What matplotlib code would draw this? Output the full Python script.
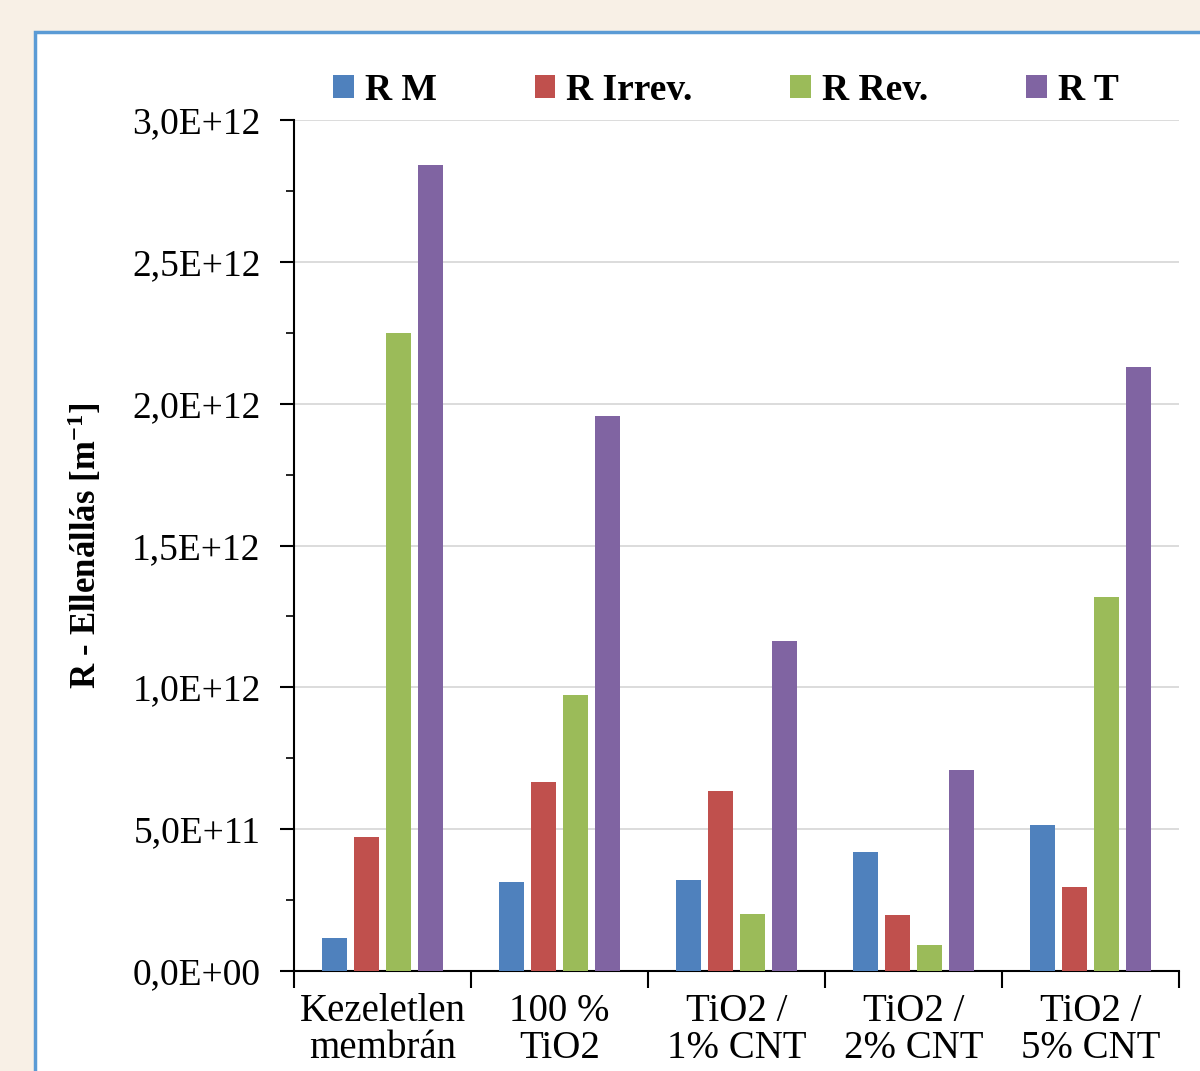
import matplotlib
matplotlib.use("Agg")
import matplotlib.pyplot as plt
import numpy as np
from matplotlib.patches import Rectangle
from matplotlib.ticker import FuncFormatter, MultipleLocator

categories = ["Kezeletlen\nmembrán", "100 %\nTiO2", "TiO2 /\n1% CNT", "TiO2 /\n2% CNT", "TiO2 /\n5% CNT"]
series_names = ["R M", "R Irrev.", "R Rev.", "R T"]
r_m = [0.116e12, 0.314e12, 0.321e12, 0.419e12, 0.515e12]
r_irrev = [0.472e12, 0.666e12, 0.634e12, 0.197e12, 0.296e12]
r_rev = [2.249e12, 0.973e12, 0.201e12, 0.092e12, 1.318e12]
r_t = [2.841e12, 1.956e12, 1.163e12, 0.709e12, 2.129e12]
colors = ["#4f81bd", "#c0504d", "#9bbb59", "#8064a2"]

plt.rcParams['font.family'] = ['Liberation Serif', 'DejaVu Serif']
plt.rcParams['mathtext.default'] = 'regular'

fig = plt.figure(figsize=(12, 10.71), dpi=100)
fig.patch.set_facecolor("#f8f0e6")
# white panel with blue border
panel = Rectangle((35 / 1200, -0.05), 1.1, 1 - 32 / 1071 + 0.05,
                  transform=fig.transFigure, facecolor="white",
                  edgecolor="#5b9bd5", linewidth=2.5, zorder=-10)
fig.patches.append(panel)

ax = fig.add_axes([294 / 1200, 1 - 971 / 1071, (1179 - 294) / 1200, (971 - 120) / 1071])
ax.set_facecolor("none")

x = np.arange(len(categories))
pitch = 0.181
width = 0.142
for i, (name, vals) in enumerate(zip(series_names, [r_m, r_irrev, r_rev, r_t])):
    ax.bar(x + (i - 1.5) * pitch, vals, width, color=colors[i], label=name, zorder=3)

ax.set_xlim(-0.5, len(categories) - 0.5)
ax.set_ylim(0, 3e12)
ax.yaxis.set_major_locator(MultipleLocator(0.5e12))
ax.yaxis.set_minor_locator(MultipleLocator(0.25e12))
ax.yaxis.set_major_formatter(FuncFormatter(lambda v, p: f"{v:.1E}".replace(".", ",")))
ax.grid(axis="y", color="#d9d9d9", linewidth=1.3, zorder=0)

ax.set_xticks(x)
ax.set_xticklabels(categories, fontsize=28, linespacing=0.98)
ax.set_xticks(np.arange(len(categories) + 1) - 0.5, minor=True)
ax.tick_params(axis="x", which="major", length=0, pad=16)
ax.tick_params(axis="x", which="minor", length=12, width=1.5, direction="out")
ax.tick_params(axis="y", which="major", length=10, width=1.5, labelsize=27, pad=14)
ax.tick_params(axis="y", which="minor", length=6, width=1.2)

for s in ["top", "right"]:
    ax.spines[s].set_visible(False)
for s in ["left", "bottom"]:
    ax.spines[s].set_linewidth(1.5)

ax.set_ylabel("R - Ellenállás [m$^{-1}$]", fontsize=25, fontweight="bold", labelpad=20)

fig.legend(loc="center", bbox_to_anchor=(0.605, 1 - 90 / 1071), ncol=4, frameon=False,
           prop={"size": 27, "weight": "bold"}, handlelength=0.55, handleheight=0.55,
           handletextpad=0.3, columnspacing=2.6)

fig.savefig("out.png", dpi=100, facecolor=fig.get_facecolor())
